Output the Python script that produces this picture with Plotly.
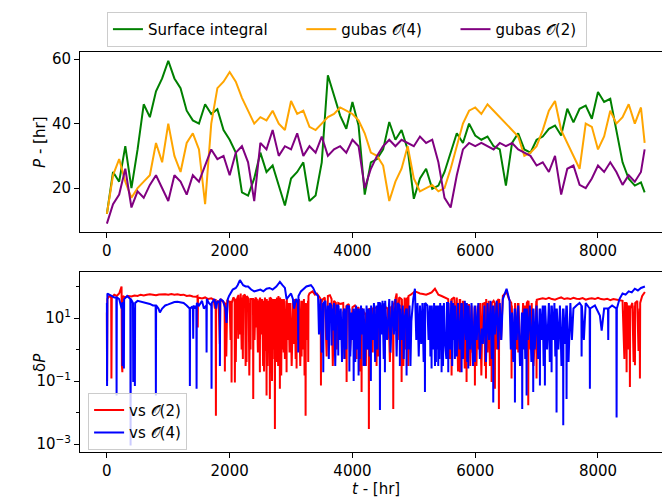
import plotly.graph_objects as go

# ---------------- data ----------------
hours = list(range(0, 8800, 100)) + [8760]

surface = [12, 25, 22, 33, 20, 32, 46, 42, 50, 54, 59.5, 54, 51, 44, 41, 40, 46, 43, 44.5, 38,
           35, 31, 18.7, 17.7, 23, 31, 25, 27, 20.8, 14.6, 23, 25,
           28, 16, 17.7, 28, 55, 48.7, 42.5, 38.4, 46.7, 39.4, 18, 28, 29, 32, 40.5, 35, 38, 32,
           16.7, 23, 26, 19.8, 20.8, 25, 31, 37, 34, 40, 36.3, 35,
           36, 33, 32, 20.8, 34, 37, 32, 31, 35, 36, 38.4, 39.4, 36.3, 44.6, 40.4, 44.6, 45.6, 41.5,
           49.8, 46.7, 47.7, 38.4, 28, 22.9, 20.8, 21.8, 18.7]

gubas4 = [12, 24, 29, 22, 17, 20, 22, 24, 34, 28, 40, 30, 25, 34, 37, 32, 15, 40, 51, 53,
          56, 53, 48, 44, 40, 42, 41, 44, 40, 38, 47, 43,
          44, 39, 38, 40, 42, 43, 45, 44, 43, 41, 37, 31, 30, 27, 16, 22, 26, 33,
          23, 19, 20, 21, 19, 20, 26, 33, 40, 44, 45, 43,
          46, 44, 42, 40, 38, 36, 30, 31, 33, 38, 44, 47, 38, 34, 30, 26, 40, 39,
          32, 36, 44, 40, 42, 46, 40, 45, 34]

gubas2 = [9, 15, 18, 26, 14, 19, 17, 21, 24, 20, 16, 24, 22, 18, 24, 22, 27, 32, 29, 30,
          24, 31, 33, 28, 16, 34, 32, 38, 30, 33, 32, 37,
          30, 33, 31, 36, 30, 32, 33, 31, 35, 33, 20, 26, 30, 33, 35, 33, 35, 34,
          33, 36, 34, 35, 28, 17, 14, 24, 32, 34, 33, 34,
          33, 32, 34, 33, 34, 32, 31, 30, 27, 28, 25, 30, 18, 26, 27, 21, 20, 23,
          27, 25, 28, 25, 21, 24, 22, 25, 32]

red_points = [
    (0, 15), (3, 0.1), (8, 40), (40, 50), (70, 45), (74, 0.12), (80, 45), (120, 55), (160, 50),
    (200, 60), (239, 100), (245, 0.3), (252, 0.19), (260, 50), (300, 45),
    (350, 50), (400, 48), (450, 52), (500, 50), (550, 55), (600, 52), (650, 55), (700, 57),
    (750, 55), (800, 53), (850, 56), (900, 58), (950, 57), (1000, 55), (1050, 58), (1100, 55),
    (1150, 57), (1200, 54), (1250, 55), (1300, 50), (1350, 52), (1400, 48), (1450, 47),
    (1476, 50), (1480, 5), (1484, 45), (1550, 42), (1600, 45), (1650, 40), (1700, 42),
    (1740, 38), (1760, 20), (1772, 40), (1776, 0.008), (1780, 30), (1820, 35), (1850, 40),
    (1880, 35), (1918, 30), (1922, 0.2), (1926, 30), (1960, 38), (2000, 32), (2027, 35),
    (2031, 0.09), (2035, 30), (2060, 45), (2081, 40), (2085, 0.09), (2090, 40), (2110, 35),
    (2135, 50), (2139, 2.2), (2143, 55), (2180, 60), (2200, 45), (2215, 0.5), (2220, 50),
    (2250, 55), (2271, 45), (2275, 0.4), (2280, 50), (2310, 40), (2330, 30), (2340, 1),
    (2345, 40), (2380, 40), (2384, 0.027), (2388, 40), (2420, 45), (2436, 40), (2440, 5),
    (2444, 40), (2470, 30), (2488, 40), (2492, 0.19), (2496, 45), (2530, 40), (2545, 0.3),
    (2550, 35), (2575, 45), (2597, 40), (2601, 0.035), (2605, 40), (2630, 35), (2651, 45),
    (2655, 0.027), (2659, 45), (2680, 40), (2697, 35), (2700, 0.5), (2705, 40), (2733, 40),
    (2737, 0.003), (2741, 40), (2770, 45), (2790, 0.3), (2795, 50), (2814, 45), (2818, 0.057),
    (2822, 45), (2850, 40), (2876, 38), (2880, 0.8), (2884, 40), (2923, 35), (2927, 0.19),
    (2931, 40), (2960, 30), (2990, 30), (3026, 35), (3030, 3), (3034, 35), (3060, 40),
    (3086, 35), (3090, 0.25), (3094, 30), (3130, 40), (3168, 35), (3172, 0.6), (3176, 35),
    (3210, 40), (3233, 30), (3237, 0.008), (3241, 30), (3276, 35), (3280, 0.4), (3284, 50),
    (3300, 60), (3350, 70), (3390, 55), (3420, 60), (3450, 50), (3483, 40), (3487, 0.073),
    (3491, 30), (3520, 40), (3550, 45), (3600, 50), (3633, 53), (3660, 40), (3700, 35),
    (3730, 30), (3769, 30), (3800, 28), (3850, 30), (3901, 25), (3905, 0.093), (3909, 25),
    (3940, 28), (4000, 22), (4040, 25), (4064, 20), (4068, 0.5), (4072, 20), (4100, 22),
    (4145, 20), (4149, 0.045), (4153, 20), (4190, 15), (4216, 12), (4220, 0.3), (4224, 15),
    (4264, 15), (4268, 0.003), (4272, 20), (4300, 18), (4326, 20), (4330, 0.8), (4334, 20),
    (4360, 22), (4389, 20), (4393, 0.3), (4397, 20), (4450, 22), (4500, 25), (4540, 22),
    (4579, 20), (4583, 2.2), (4587, 20), (4630, 22), (4661, 25), (4665, 0.013), (4669, 25),
    (4700, 40), (4720, 60), (4760, 45), (4797, 40), (4801, 0.093), (4805, 40), (4850, 45),
    (4880, 40), (4905, 45), (4909, 0.3), (4913, 50), (4950, 55), (5018, 70), (5060, 65),
    (5100, 60), (5150, 58), (5200, 55), (5250, 60), (5290, 65), (5344, 85), (5400, 55),
    (5452, 50), (5500, 45), (5560, 40), (5611, 40), (5615, 0.15), (5619, 40), (5660, 45),
    (5700, 45), (5747, 40), (5751, 0.19), (5755, 40), (5800, 35), (5855, 30), (5859, 0.093),
    (5863, 30), (5900, 28), (5940, 25), (5991, 22), (5995, 0.073), (5999, 20), (6040, 25),
    (6080, 30), (6120, 28), (6154, 30), (6158, 0.3), (6162, 25), (6171, 30), (6175, 0.12),
    (6179, 40), (6220, 35), (6263, 30), (6267, 0.093), (6271, 30), (6300, 35), (6317, 30),
    (6321, 0.057), (6325, 30), (6360, 35), (6382, 40), (6386, 0.013), (6390, 40), (6450, 50),
    (6511, 67), (6550, 40), (6588, 30), (6592, 0.12), (6596, 25), (6650, 30), (6697, 30),
    (6701, 0.8), (6705, 30), (6780, 30), (6810, 25), (6840, 30), (6860, 35), (6864, 0.017),
    (6868, 35), (6920, 30), (6995, 35), (6999, 0.12), (7003, 38), (7050, 40), (7100, 42),
    (7150, 40), (7200, 44), (7250, 40), (7300, 38), (7350, 42), (7400, 45), (7450, 40),
    (7500, 42), (7550, 40), (7600, 44), (7650, 41), (7700, 40), (7750, 43), (7800, 38),
    (7850, 41), (7900, 42), (7950, 40), (8000, 44), (8050, 40), (8100, 39), (8150, 41),
    (8200, 37), (8250, 40), (8300, 38), (8350, 36), (8400, 35), (8440, 30), (8462, 30),
    (8466, 0.19), (8470, 30), (8500, 25), (8516, 20), (8520, 0.065), (8524, 20), (8560, 30),
    (8598, 25), (8602, 0.32), (8606, 30), (8640, 35), (8679, 20), (8683, 0.12), (8687, 30),
    (8720, 50), (8764, 67),
]

# shallower dips that fill the spiky stretches of the red curve
red_dips = [
    (1840, 1.5), (1945, 0.6), (2015, 2), (2100, 0.4), (2160, 3), (2195, 1), (2260, 0.3),
    (2320, 0.15), (2405, 2), (2460, 0.8), (2515, 3), (2560, 0.2), (2585, 0.9), (2618, 0.3),
    (2640, 2), (2690, 0.1), (2720, 1), (2760, 0.4), (2805, 2), (2840, 0.15), (2860, 1),
    (2900, 0.5), (2945, 2), (2975, 0.8), (3010, 0.3), (3045, 1.5), (3075, 0.5), (3110, 2),
    (3150, 0.3), (3190, 1), (3220, 0.15), (3260, 2),
    (3580, 0.6), (3680, 0.3), (3745, 1), (3870, 0.5), (3960, 0.8), (4120, 0.2), (4240, 1),
    (4420, 0.6), (4520, 0.9), (4610, 0.4), (4740, 2), (4830, 0.3), (4870, 1),
    (5590, 0.5), (5680, 1), (5720, 0.2), (5780, 0.6), (5830, 0.25), (5880, 1), (5920, 0.3),
    (5960, 0.8), (6020, 0.3), (6060, 1), (6100, 0.15), (6200, 0.8), (6240, 0.3), (6350, 1),
    (6420, 2), (6620, 0.5), (6680, 1), (6740, 0.3), (6790, 2), (6830, 0.6), (6900, 1),
    (6950, 0.3), (8430, 0.5), (8490, 1), (8580, 0.4), (8660, 0.9),
]

blue_points = [
    (0, 30), (3, 0.07), (8, 60), (40, 55), (80, 50), (120, 45), (154, 45), (158, 0.035),
    (162, 45), (200, 40), (240, 20), (251, 30), (255, 0.3), (259, 30), (273, 30), (277, 0.25),
    (281, 40), (330, 50), (382, 40), (386, 0.0009), (390, 40), (425, 30), (429, 0.093),
    (433, 20), (452, 20), (456, 0.07), (460, 30), (500, 35), (550, 33), (600, 32), (650, 30),
    (700, 28), (750, 25), (794, 25), (798, 0.035), (802, 25), (840, 20), (863, 15), (900, 20),
    (950, 25), (1000, 27), (1050, 30), (1100, 32), (1150, 33), (1200, 32), (1250, 30),
    (1300, 25), (1348, 20), (1352, 0.07), (1356, 20), (1380, 22), (1402, 20), (1406, 2.2),
    (1410, 25), (1440, 20), (1457, 25), (1461, 0.057), (1465, 30), (1500, 25), (1550, 35),
    (1580, 20), (1620, 25), (1624, 0.8), (1628, 40), (1660, 30), (1701, 25), (1705, 0.057),
    (1709, 30), (1750, 40), (1780, 20), (1800, 35), (1837, 30), (1841, 0.3), (1845, 40),
    (1890, 35), (1930, 20), (1949, 7), (1970, 40), (1990, 50), (2050, 80), (2100, 90),
    (2130, 110), (2167, 160), (2200, 130), (2220, 110), (2260, 100), (2300, 100), (2350, 80),
    (2400, 70), (2450, 75), (2500, 80), (2550, 70), (2600, 85), (2650, 90), (2700, 80),
    (2760, 100), (2818, 140), (2860, 110), (2900, 90), (2927, 40), (2960, 50), (3000, 60),
    (3030, 40), (3050, 20), (3080, 40), (3113, 30), (3117, 0.8), (3121, 50), (3160, 70),
    (3200, 80), (3250, 100), (3324, 110), (3360, 90), (3400, 60), (3440, 50), (3480, 40),
    (3521, 30), (3525, 0.19), (3529, 30), (3560, 35), (3600, 25), (3630, 30), (3656, 25),
    (3660, 1.35), (3664, 20), (3700, 30), (3740, 25), (3765, 25), (3769, 0.65), (3773, 25),
    (3810, 20), (3850, 15), (3866, 20), (3870, 0.5), (3874, 20), (3910, 25), (3930, 20),
    (3946, 25), (3950, 0.2), (3954, 20), (3985, 15), (4016, 20), (4020, 0.1), (4024, 20),
    (4060, 25), (4096, 20), (4100, 0.15), (4104, 20), (4140, 25), (4176, 20), (4180, 0.3),
    (4184, 20), (4230, 25), (4260, 20), (4296, 20), (4300, 0.1), (4304, 25), (4350, 30),
    (4390, 25), (4420, 30), (4444, 30), (4448, 0.012), (4452, 30), (4490, 35), (4525, 30),
    (4529, 0.19), (4533, 35), (4600, 40), (4650, 35), (4700, 40), (4740, 30), (4769, 25),
    (4773, 0.3), (4777, 20), (4820, 25), (4850, 10), (4878, 20), (4882, 0.15), (4886, 20),
    (4930, 25), (4960, 8), (4990, 40), (5018, 85), (5060, 30), (5100, 25), (5140, 30),
    (5177, 30), (5181, 0.045), (5185, 30), (5220, 25), (5240, 2), (5260, 25), (5285, 25),
    (5289, 0.25), (5293, 25), (5330, 30), (5356, 25), (5360, 0.4), (5364, 25), (5394, 25),
    (5398, 0.3), (5402, 25), (5430, 30), (5448, 25), (5452, 0.19), (5456, 25), (5490, 30),
    (5520, 1), (5540, 30), (5557, 30), (5561, 0.19), (5565, 30), (5610, 35), (5640, 30),
    (5665, 25), (5669, 0.5), (5673, 25), (5720, 30), (5774, 30), (5778, 0.19), (5782, 30),
    (5830, 35), (5860, 30), (5883, 25), (5887, 0.25), (5891, 25), (5940, 30), (5991, 25),
    (5995, 0.4), (5999, 25), (6050, 30), (6104, 4.6), (6150, 25), (6200, 30), (6250, 35),
    (6290, 25), (6294, 0.021), (6298, 25), (6350, 35), (6400, 30), (6450, 40), (6511, 85),
    (6560, 35), (6600, 15), (6643, 20), (6647, 0.021), (6651, 20), (6700, 25), (6762, 15),
    (6766, 0.013), (6770, 15), (6800, 20), (6833, 20), (6837, 0.035), (6841, 20), (6890, 25),
    (6941, 20), (6945, 0.045), (6949, 20), (7000, 25), (7050, 20), (7054, 0.073), (7058, 20),
    (7100, 25), (7131, 25), (7135, 0.073), (7139, 25), (7200, 30), (7240, 25), (7244, 0.19),
    (7248, 25), (7290, 30), (7321, 20), (7325, 0.01), (7329, 20), (7380, 25), (7430, 20),
    (7434, 0.004), (7438, 20), (7484, 25), (7488, 0.027), (7492, 25), (7550, 30), (7600, 20),
    (7650, 25), (7700, 30), (7729, 25), (7733, 0.6), (7737, 25), (7800, 30), (7864, 20),
    (7868, 0.057), (7872, 20), (7950, 25), (8031, 12), (8100, 20), (8163, 20), (8167, 2),
    (8171, 20), (8230, 25), (8299, 20), (8303, 0.007), (8307, 20), (8350, 40), (8400, 60),
    (8450, 55), (8500, 70), (8550, 65), (8600, 85), (8650, 75), (8700, 90), (8764, 100),
]

# shallower dips that fill the dense stretch of the blue curve
blue_dips = [
    (3455, 3), (3500, 0.8), (3580, 2), (3615, 0.5), (3680, 4), (3720, 0.3), (3790, 2),
    (3830, 0.4), (3900, 1), (3965, 0.6), (4000, 2), (4045, 0.4), (4080, 1), (4120, 0.5),
    (4160, 3), (4205, 0.3), (4245, 1), (4280, 0.6), (4330, 2), (4370, 0.4), (4405, 1),
    (4470, 3), (4510, 0.5), (4565, 2), (4620, 0.8), (4675, 3), (4720, 0.6), (4800, 2),
    (4835, 0.5), (4910, 1), (4945, 0.3), (5040, 2), (5080, 0.6), (5120, 1.5), (5160, 0.4),
    (5270, 0.6), (5320, 1), (5345, 0.3), (5380, 1), (5415, 0.5), (5440, 1), (5475, 0.3),
    (5505, 2), (5530, 0.5), (5590, 1), (5625, 0.3), (5655, 2), (5700, 0.6), (5745, 1),
    (5800, 0.5), (5850, 2), (5870, 0.4), (5920, 1), (5965, 0.3), (6025, 2), (6075, 0.5),
    (6125, 1.5), (6175, 0.4), (6225, 2), (6270, 0.5), (6320, 3), (6375, 1), (6425, 2),
    (6580, 1), (6620, 0.4), (6675, 2), (6730, 0.3), (6785, 1), (6815, 0.5), (6860, 2),
    (6915, 0.4), (6970, 1), (7025, 0.5), (7080, 2), (7115, 0.3), (7170, 1), (7215, 0.4),
    (7270, 2), (7305, 0.6), (7355, 1), (7405, 0.3), (7465, 1.5), (7520, 0.4), (7575, 2),
    (7770, 2), (8060, 4),
]

x_ticks = [0, 2000, 4000, 6000, 8000]
top_y_ticks = [20, 40, 60]
log_ticks = [0.001, 0.1, 10]
log_tick_text = ["10<sup>−3</sup>", "10<sup>−1</sup>", "10<sup>1</sup>"]
log_minor = [0.01, 1, 100]

# ---------------- figure ----------------
red_all = sorted(red_points + red_dips)
blue_all = sorted(blue_points + blue_dips)
red_t = [p[0] for p in red_all]
red_v = [p[1] for p in red_all]
blue_t = [p[0] for p in blue_all]
blue_v = [p[1] for p in blue_all]

FS = 15
PAD = "\u00a0" * 6
fig = go.Figure()
fig.add_trace(go.Scatter(x=hours, y=surface, mode="lines", name="Surface integral" + PAD,
                         line=dict(color="green", width=2), xaxis="x", yaxis="y", legend="legend"))
fig.add_trace(go.Scatter(x=hours, y=gubas4, mode="lines", name="gubas 𝒪(4)" + PAD,
                         line=dict(color="orange", width=2), xaxis="x", yaxis="y", legend="legend"))
fig.add_trace(go.Scatter(x=hours, y=gubas2, mode="lines", name="gubas 𝒪(2)\u00a0",
                         line=dict(color="purple", width=2), xaxis="x", yaxis="y", legend="legend"))
fig.add_trace(go.Scatter(x=red_t, y=red_v, mode="lines", name="vs 𝒪(2)",
                         line=dict(color="red", width=2), xaxis="x2", yaxis="y2", legend="legend2"))
fig.add_trace(go.Scatter(x=blue_t, y=blue_v, mode="lines", name="vs 𝒪(4)",
                         line=dict(color="blue", width=2), xaxis="x2", yaxis="y2", legend="legend2"))

axis_common = dict(showline=True, linecolor="black", linewidth=1, ticks="outside", ticklen=5,
                   tickwidth=1, tickcolor="black", showgrid=False, zeroline=False,
                   automargin=False, tickfont=dict(size=FS, color="black"))

# the page body adds an 8 px offset, so the figure is 8 px smaller and shifted accordingly
fig.update_layout(
    width=662, height=489,
    margin=dict(l=72, r=0, t=44, b=45, autoexpand=False),
    paper_bgcolor="white", plot_bgcolor="white",
    font=dict(family="DejaVu Sans", size=FS, color="black"),
    xaxis=dict(domain=[0, 1], anchor="y", range=[-438, 9173], tickvals=x_ticks, mirror=True,
               **axis_common),
    yaxis=dict(domain=[0.55, 1], anchor="x", range=[6.4, 62.2], tickvals=top_y_ticks,
               **axis_common),
    xaxis2=dict(domain=[0, 1], anchor="y2", range=[-438, 9173], tickvals=x_ticks, mirror=True,
                **axis_common),
    yaxis2=dict(domain=[0, 0.45], anchor="x2", type="log", range=[-3.25, 2.46],
                tickvals=log_ticks, ticktext=log_tick_text,
                minor=dict(tickvals=log_minor, ticklen=3, tickcolor="black", ticks="outside"),
                **axis_common),
    legend=dict(orientation="h", xref="container", yref="container", x=0.512, xanchor="center",
                y=0.992, yanchor="top",
                bgcolor="rgba(255,255,255,0.8)", bordercolor="#cccccc", borderwidth=1,
                font=dict(size=FS)),
    legend2=dict(orientation="v", xref="container", yref="container", x=0.121, xanchor="left",
                 y=0.213, yanchor="top",
                 bgcolor="rgba(255,255,255,0.8)", bordercolor="#cccccc", borderwidth=1,
                 font=dict(size=FS), tracegroupgap=0),
    showlegend=True,
    annotations=[
        dict(text="<i>P</i> - [hr]", xref="paper", yref="paper", x=-0.068, y=0.775,
             textangle=-90, showarrow=False, xanchor="center", yanchor="middle",
             font=dict(size=FS)),
        dict(text="δ<i>P</i>", xref="paper", yref="paper", x=-0.068, y=0.225,
             textangle=-90, showarrow=False, xanchor="center", yanchor="middle",
             font=dict(size=FS)),
        dict(text="<i>t</i> - [hr]", xref="paper", yref="paper", x=0.501, y=-0.093,
             showarrow=False, xanchor="center", yanchor="middle", font=dict(size=FS)),
    ],
)

fig.write_html("out.html")
